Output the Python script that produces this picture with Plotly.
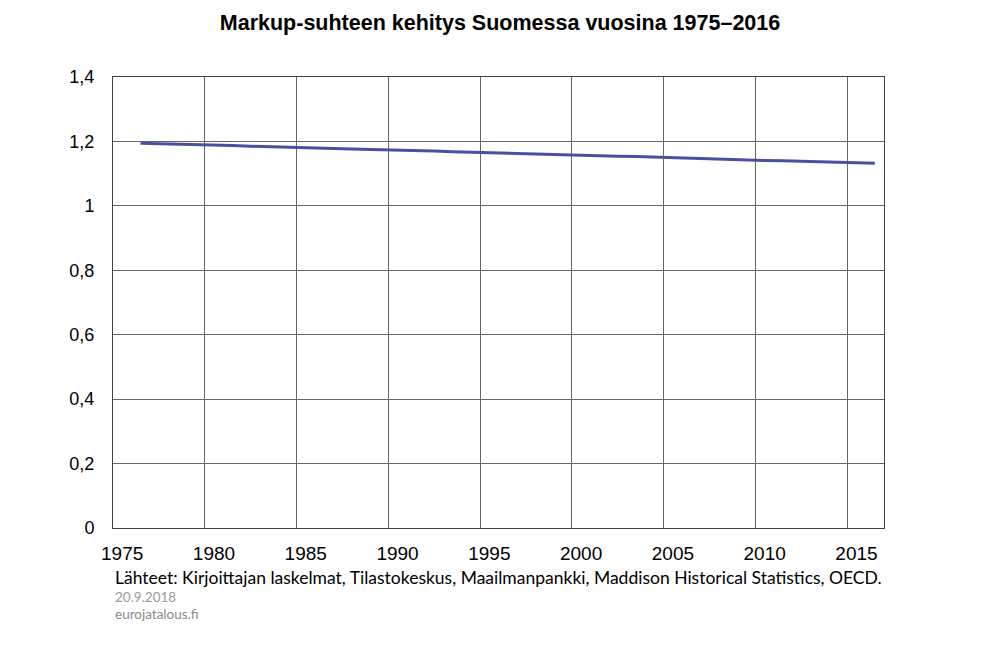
import plotly.graph_objects as go

# Markup-suhde vuosittain (luettu kuvasta)
years = list(range(1976, 2017))
markup = [
    1.194, 1.193, 1.192, 1.191, 1.189, 1.187, 1.185, 1.183, 1.181, 1.179,
    1.178, 1.177, 1.176, 1.175, 1.173, 1.172, 1.170, 1.168, 1.167, 1.165,
    1.164, 1.162, 1.160, 1.158, 1.157, 1.156, 1.154, 1.153, 1.151, 1.149,
    1.148, 1.146, 1.145, 1.143, 1.141, 1.140, 1.138, 1.136, 1.135, 1.133,
    1.132,
]
tick_years = [1975, 1980, 1985, 1990, 1995, 2000, 2005, 2010, 2015]
y_ticks = [0, 0.2, 0.4, 0.6, 0.8, 1, 1.2, 1.4]

title = "Markup-suhteen kehitys Suomessa vuosina 1975–2016"
source = "Lähteet: Kirjoittajan laskelmat, Tilastokeskus, Maailmanpankki, Maddison Historical Statistics, OECD."
date_txt = "20.9.2018"
site_txt = "eurojatalous.fi"

grid_col = "#666666"
frame_col = "#404040"

fig = go.Figure()
fig.add_trace(go.Scatter(
    x=years, y=markup, mode="lines",
    line=dict(color="#4B4F9F", width=3),
    showlegend=False,
))

# sivun oma 8px marginaali on vähennetty
fig.update_layout(
    width=1000, height=653,
    margin=dict(l=105, r=124, t=69, b=133),
    paper_bgcolor="white", plot_bgcolor="white",
    separators=", ",
    font=dict(family="Liberation Sans, Arial, sans-serif", color="black"),
    title=dict(text="<b>" + title + "</b>", x=0.492, xanchor="center",
               y=1 - 14 / 653, yanchor="middle", font=dict(size=21.5)),
)

# kategoria-akseli: otsikot keskellä, ruudukko kategorioiden välissä
fig.update_xaxes(
    range=[1974.5, 2016.5],
    tickmode="array", tickvals=tick_years,
    showgrid=False, ticks="", ticklabelstandoff=8,
    tickfont=dict(size=19),
    showline=True, mirror=True, linecolor=frame_col, linewidth=1,
    minor=dict(tick0=1979.5, dtick=5, showgrid=True, gridcolor=grid_col,
               gridwidth=1, ticks=""),
    zeroline=False,
)
fig.update_yaxes(
    range=[0, 1.4],
    tickmode="array", tickvals=y_ticks,
    showgrid=True, gridcolor=grid_col, gridwidth=1,
    ticks="", ticklabelstandoff=14,
    tickfont=dict(size=18),
    showline=True, mirror=True, linecolor=frame_col, linewidth=1,
    zeroline=False,
)

fig.add_annotation(text=source, xref="paper", yref="paper", x=0, y=-0.11,
                   xanchor="left", yanchor="middle", showarrow=False,
                   font=dict(family="Lato, Open Sans, sans-serif", size=17.5, color="black"))
fig.add_annotation(text=date_txt, xref="paper", yref="paper", x=0, y=-0.152,
                   xanchor="left", yanchor="middle", showarrow=False,
                   font=dict(family="Lato, Open Sans, sans-serif", size=13.5, color="#9a9a9a"))
fig.add_annotation(text=site_txt, xref="paper", yref="paper", x=0, y=-0.19,
                   xanchor="left", yanchor="middle", showarrow=False,
                   font=dict(family="Lato, Open Sans, sans-serif", size=13.5, color="#8a8a8a"))

fig.write_html("out.html")
